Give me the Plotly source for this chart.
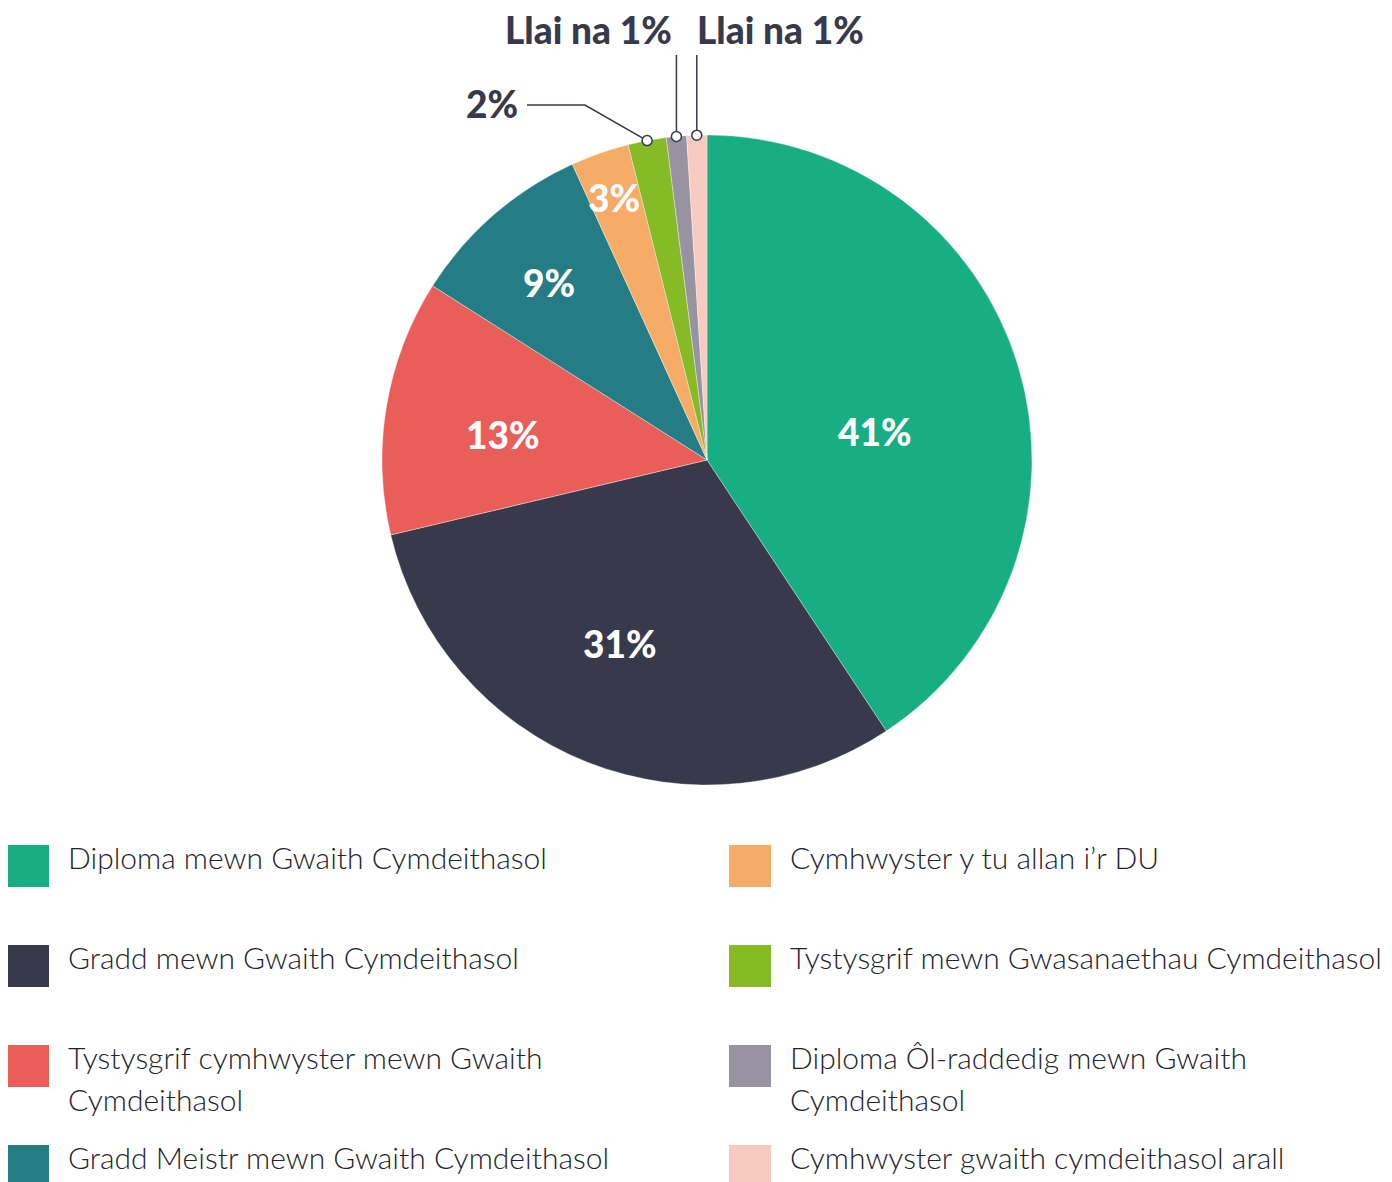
import math
import plotly.graph_objects as go

# ---------------- data ----------------
categories = [
    "Diploma mewn Gwaith Cymdeithasol",
    "Gradd mewn Gwaith Cymdeithasol",
    "Tystysgrif cymhwyster mewn Gwaith Cymdeithasol",
    "Gradd Meistr mewn Gwaith Cymdeithasol",
    "Cymhwyster y tu allan i’r DU",
    "Tystysgrif mewn Gwasanaethau Cymdeithasol",
    "Diploma Ôl-raddedig mewn Gwaith Cymdeithasol",
    "Cymhwyster gwaith cymdeithasol arall",
]
values = [40.7, 30.6, 12.7, 9.2, 2.9, 1.9, 1.0, 1.0]
value_labels = ["41%", "31%", "13%", "9%", "3%", "2%", "Llai na 1%", "Llai na 1%"]
legend_lines = [
    ["Diploma mewn Gwaith Cymdeithasol"],
    ["Gradd mewn Gwaith Cymdeithasol"],
    ["Tystysgrif cymhwyster mewn Gwaith", "Cymdeithasol"],
    ["Gradd Meistr mewn Gwaith Cymdeithasol"],
    ["Cymhwyster y tu allan i’r DU"],
    ["Tystysgrif mewn Gwasanaethau Cymdeithasol"],
    ["Diploma Ôl-raddedig mewn Gwaith", "Cymdeithasol"],
    ["Cymhwyster gwaith cymdeithasol arall"],
]
colors = ["#18AE84", "#383A4B", "#E95E58", "#247D85",
          "#F6AB67", "#86BB26", "#9893A0", "#F8CBC0"]

# ---------------- layout geometry (window pixels) ----------------
W, H = 1392, 1182
OFF = 8  # page body margin
cx, cy, R = 707, 460, 325
DARK = "#383A4B"
TEXT = "#24242E"


def px(x):
    return (x - OFF) / W


def py(y):
    return 1 - (y - OFF) / H


fig = go.Figure()
fig.add_trace(go.Pie(
    labels=categories,
    values=values,
    sort=False,
    direction="clockwise",
    rotation=0,
    marker=dict(colors=colors, line=dict(color="rgba(255,255,255,0.6)", width=0.6)),
    textinfo="none",
    hoverinfo="label+percent",
    showlegend=False,
    domain=dict(x=[px(cx - R), px(cx + R)], y=[py(cy + R), py(cy - R)]),
))

annotations = []
shapes = []
LABEL_FONT = "Lato"

# inside labels (white bold)
inside_pos = [(875, 431), (620, 644), (503, 435), (549, 283), (614, 198)]
for i, (x, y) in enumerate(inside_pos):
    annotations.append(dict(
        x=px(x), y=py(y), xref="paper", yref="paper",
        text=value_labels[i], showarrow=False,
        xanchor="center", yanchor="middle",
        font=dict(family=LABEL_FONT, size=37, color="white", weight=900),
    ))

# edge points for small slices, computed from the data
total = sum(values)
cum = 0
edge = []
for v in values:
    mid = (cum + v / 2) / total * 2 * math.pi
    edge.append((cx + R * math.sin(mid), cy - R * math.cos(mid)))
    cum += v

line_style = dict(color=DARK, width=1.5)
# 2%
ex, ey = edge[5]
shapes.append(dict(type="path", xref="paper", yref="paper",
                   path=f"M {px(ex)} {py(ey)} L {px(585)} {py(105)} L {px(527)} {py(105)}",
                   line=line_style))
annotations.append(dict(x=px(520), y=py(103), xref="paper", yref="paper",
                        text=value_labels[5], showarrow=False,
                        xanchor="right", yanchor="middle",
                        font=dict(family=LABEL_FONT, size=37, color=DARK, weight=900)))
# <1% labels
top_label_x = [588, 780]
for k, i in enumerate([6, 7]):
    ex, ey = edge[i]
    shapes.append(dict(type="line", xref="paper", yref="paper",
                       x0=px(ex), y0=py(ey), x1=px(ex), y1=py(55), line=line_style))
    annotations.append(dict(x=px(top_label_x[k]), y=py(30), xref="paper", yref="paper",
                            text=value_labels[i], showarrow=False,
                            xanchor="center", yanchor="middle",
                            font=dict(family=LABEL_FONT, size=37, color=DARK, weight=900)))
# circles at slice edges
for i in [5, 6, 7]:
    ex, ey = edge[i]
    r = 5
    shapes.append(dict(type="circle", xref="paper", yref="paper",
                       x0=px(ex - r), x1=px(ex + r), y0=py(ey + r), y1=py(ey - r),
                       fillcolor="white", line=dict(color=DARK, width=1.5)))

# custom legend (two columns)
col_x = [7, 729]
row_y = [845, 945, 1045, 1145]
sq = 42
for i, lines in enumerate(legend_lines):
    col = i // 4
    row = i % 4
    x0 = col_x[col]
    y0 = row_y[row]
    shapes.append(dict(type="rect", xref="paper", yref="paper",
                       x0=px(x0), x1=px(x0 + sq), y0=py(y0 + sq), y1=py(y0),
                       fillcolor=colors[i], line=dict(width=0)))
    for j, t in enumerate(lines):
        annotations.append(dict(
            x=px(x0 + 59), y=py(y0 + 12 + 42 * j), xref="paper", yref="paper",
            text=t, showarrow=False, xanchor="left", yanchor="middle",
            font=dict(family="Lato", size=30, color=TEXT, weight=300),
        ))

fig.update_layout(
    width=W, height=H,
    margin=dict(l=0, r=0, t=0, b=0),
    paper_bgcolor="white",
    plot_bgcolor="white",
    shapes=shapes,
    annotations=annotations,
)

fig.write_html("out.html")
